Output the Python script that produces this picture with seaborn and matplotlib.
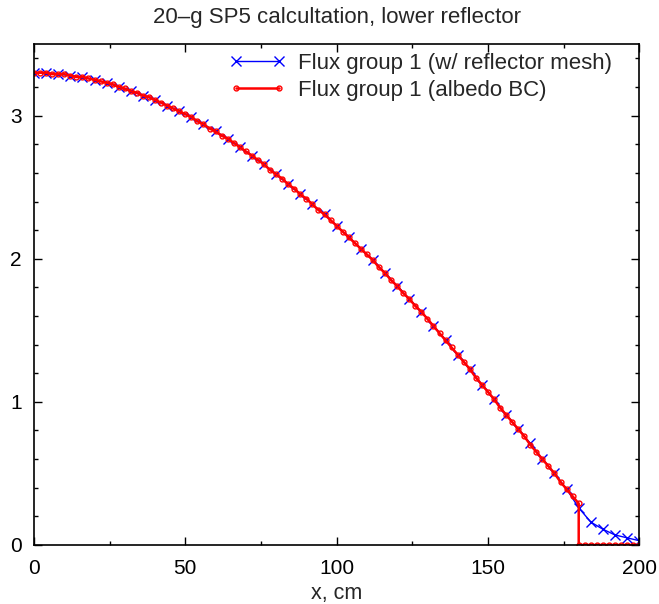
import numpy as np
import pandas as pd
import matplotlib
matplotlib.use('Agg')
import matplotlib.pyplot as plt
from matplotlib.ticker import MultipleLocator
import seaborn as sns

# flux with the reflector meshed explicitly (coarse mesh, 0..200 cm)
mesh_x = [0, 4, 8, 12, 16, 20, 24, 28, 32, 36, 40, 44, 48, 52, 56, 60, 64, 68, 72, 76,
          80, 84, 88, 92, 96, 100, 104, 108, 112, 116, 120, 124, 128, 132, 136, 140,
          144, 148, 152, 156, 160, 164, 168, 172, 176, 180, 184, 188, 192, 196, 200]
mesh_flux = [3.30, 3.30, 3.29, 3.28, 3.27, 3.25, 3.23, 3.20, 3.17, 3.14, 3.11, 3.07,
             3.03, 2.99, 2.94, 2.89, 2.84, 2.78, 2.72, 2.66, 2.59, 2.52, 2.45, 2.38,
             2.31, 2.23, 2.15, 2.07, 1.99, 1.90, 1.81, 1.72, 1.63, 1.53, 1.43, 1.33,
             1.23, 1.12, 1.02, 0.91, 0.81, 0.71, 0.60, 0.50, 0.39, 0.26, 0.16, 0.11,
             0.07, 0.05, 0.03]

# flux with albedo boundary condition at 180 cm (zero in reflector)
albedo_x = [0, 2, 4, 6, 8, 10, 12, 14, 16, 18, 20, 22, 24, 26, 28, 30, 32, 34, 36, 38,
            40, 42, 44, 46, 48, 50, 52, 54, 56, 58, 60, 62, 64, 66, 68, 70, 72, 74, 76,
            78, 80, 82, 84, 86, 88, 90, 92, 94, 96, 98, 100, 102, 104, 106, 108, 110,
            112, 114, 116, 118, 120, 122, 124, 126, 128, 130, 132, 134, 136, 138, 140,
            142, 144, 146, 148, 150, 152, 154, 156, 158, 160, 162, 164, 166, 168, 170,
            172, 174, 176, 178, 180, 180, 182, 184, 186, 188, 190, 192, 194, 196, 198, 200]
albedo_flux = [3.30, 3.30, 3.30, 3.29, 3.29, 3.29, 3.28, 3.27, 3.27, 3.26, 3.25, 3.24,
               3.23, 3.22, 3.20, 3.19, 3.17, 3.16, 3.14, 3.13, 3.11, 3.09, 3.07, 3.05,
               3.03, 3.01, 2.99, 2.96, 2.94, 2.91, 2.89, 2.86, 2.84, 2.81, 2.78, 2.75,
               2.72, 2.69, 2.66, 2.62, 2.59, 2.56, 2.52, 2.49, 2.45, 2.42, 2.38, 2.34,
               2.31, 2.27, 2.23, 2.19, 2.15, 2.11, 2.07, 2.03, 1.99, 1.94, 1.90, 1.85,
               1.81, 1.76, 1.72, 1.67, 1.63, 1.58, 1.53, 1.48, 1.43, 1.38, 1.33, 1.28,
               1.23, 1.17, 1.12, 1.07, 1.02, 0.96, 0.91, 0.86, 0.81, 0.76, 0.70, 0.65,
               0.60, 0.55, 0.50, 0.44, 0.39, 0.34, 0.29, 0.0, 0.0, 0.0, 0.0, 0.0, 0.0,
               0.0, 0.0, 0.0, 0.0, 0.0]

sns.set_style('ticks')
plt.rcParams['font.family'] = ['Liberation Sans', 'DejaVu Sans']

fig = plt.figure(figsize=(6.59, 6.04), dpi=100)
ax = fig.add_axes([0.0516, 0.0977, 0.9184, 0.8293])

df_mesh = pd.DataFrame({'x': mesh_x, 'flux': mesh_flux})
df_alb = pd.DataFrame({'x': albedo_x, 'flux': albedo_flux})

sns.lineplot(data=df_mesh, x='x', y='flux', ax=ax, color='#0000ff', lw=1.0,
             marker='x', markersize=7.5, markeredgewidth=1.0, markeredgecolor='#0000ff',
             sort=False, estimator=None, label='Flux group 1 (w/ reflector mesh)')
sns.lineplot(data=df_alb, x='x', y='flux', ax=ax, color='#ff0000', lw=1.8,
             marker='o', markersize=3.5, markerfacecolor='none', markeredgecolor='#ff0000',
             markeredgewidth=1.0, sort=False, estimator=None,
             label='Flux group 1 (albedo BC)')

ax.set_xlim(0, 200)
ax.set_ylim(0, 3.5)
ax.xaxis.set_major_locator(MultipleLocator(50))
ax.xaxis.set_minor_locator(MultipleLocator(25))
ax.yaxis.set_major_locator(MultipleLocator(1))
ax.yaxis.set_minor_locator(MultipleLocator(0.2))
ax.tick_params(which='both', direction='in', top=True, right=True, labelsize=15, colors='black')
ax.tick_params(which='major', length=6, width=1)
ax.tick_params(axis='x', which='major', pad=10)
ax.tick_params(axis='y', which='major', pad=9)
ax.tick_params(which='minor', length=3, width=1)
for sp in ax.spines.values():
    sp.set_linewidth(1.2)
    sp.set_color('black')

ax.set_xlabel('x, cm', fontsize=15.5, labelpad=4)
ax.set_ylabel('')
ax.set_title('20\u2013g SP5 calcultation, lower reflector', fontsize=16, pad=15)

ax.legend(loc='upper right', frameon=False, fontsize=16, numpoints=2,
          handlelength=2.57, handletextpad=0.55, borderaxespad=0.0, labelspacing=0.25,
          bbox_to_anchor=(0.97, 1.0))

fig.savefig('out.png', dpi=100)
